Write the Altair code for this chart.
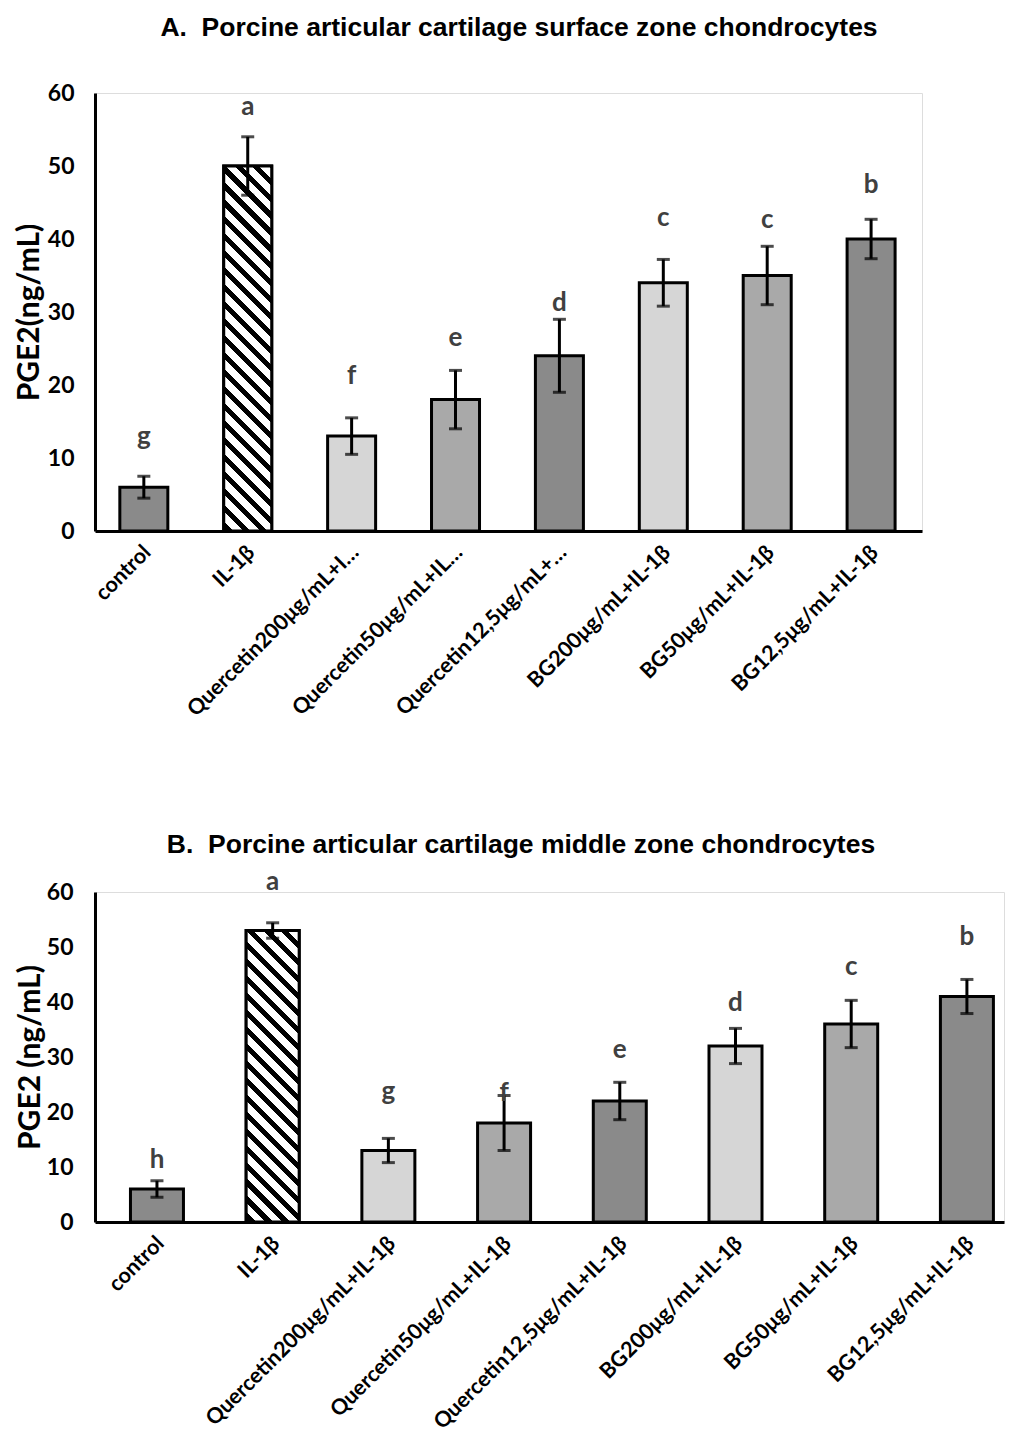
import math
import altair as alt
import pandas as pd

# ---------------- data ----------------
categories = ["control", "IL-1β", "Quercetin200μg/mL+IL-1β", "Quercetin50μg/mL+IL-1β",
              "Quercetin12,5μg/mL+IL-1β", "BG200μg/mL+IL-1β", "BG50μg/mL+IL-1β", "BG12,5μg/mL+IL-1β"]
labels_a = ["control", "IL-1β", "Quercetin200μg/mL+I…", "Quercetin50μg/mL+IL…",
            "Quercetin12,5μg/mL+…", "BG200μg/mL+IL-1β", "BG50μg/mL+IL-1β", "BG12,5μg/mL+IL-1β"]

values_a = [6, 50, 13, 18, 24, 34, 35, 40]
errors_a = [1.5, 4, 2.5, 4, 5, 3.2, 4, 2.7]
letters_a = ["g", "a", "f", "e", "d", "c", "c", "b"]
letter_y_a = [12.9, 58.1, 21.2, 26.4, 31.2, 42.9, 42.6, 47.4]

values_b = [6, 53, 13, 18, 22, 32, 36, 41]
errors_b = [1.5, 1.4, 2.2, 5, 3.4, 3.2, 4.3, 3.1]
letters_b = ["h", "a", "g", "f", "e", "d", "c", "b"]
letter_y_b = [11.3, 61.8, 23.6, 23.4, 31.3, 39.8, 46.4, 51.8]

title_a = "A.\u00a0 Porcine articular cartilage surface zone chondrocytes"
title_b = "B.\u00a0 Porcine articular cartilage middle zone chondrocytes"
ytitle_a = "PGE2(ng/mL)"
ytitle_b = "PGE2 (ng/mL)"

# grey tones standing in for the print patterns (by bar position)
fills = ["#8a8a8a", "#ffffff", "#d6d6d6", "#a9a9a9", "#8a8a8a", "#d6d6d6", "#a9a9a9", "#8a8a8a"]

LABEL_FONT = "Lato"
TITLE_FONT = "Liberation Sans"


def stripe_gradient(w, h, period=12.0, black=5.0):
    """Diagonal '\\' hatching built from a linear gradient (bbox units)."""
    a = w / h
    s = (a + 1) / (a * a + 1)
    x2, y2 = a * s, 1 - s
    L = (w + h) / math.sqrt(2)
    stops = [{"offset": 0, "color": "white"}]
    p = 2.0
    while p < L:
        o1 = min(p / L, 1)
        o2 = min((p + black) / L, 1)
        stops += [{"offset": o1, "color": "white"}, {"offset": o1, "color": "black"},
                  {"offset": o2, "color": "black"}, {"offset": o2, "color": "white"}]
        p += period
    stops.append({"offset": 1, "color": "white"})
    return {"gradient": "linear", "x1": 0, "y1": 1, "x2": x2, "y2": y2, "stops": stops}


def panel(labels, values, errors, letters, letter_y, title, ytitle, width, height,
          pad_inner, pad_outer, align, title_offset, title_dx, label_pad, title_pad):
    df = pd.DataFrame({
        "cat": labels,
        "idx": list(range(len(labels))),
        "value": values,
        "lo": [v - e for v, e in zip(values, errors)],
        "hi": [v + e for v, e in zip(values, errors)],
        "letter": letters,
        "ly": letter_y,
    })
    step = width / (len(labels) - pad_inner + 2 * pad_outer)
    bw = step * (1 - pad_inner)
    grad = stripe_gradient(bw, values[1] / 60 * height)

    xscale = alt.Scale(domain=labels, paddingInner=pad_inner, paddingOuter=pad_outer, align=align)
    x = alt.X("cat:N", sort=labels, scale=xscale, title=None,
              axis=alt.Axis(labelAngle=-45, labelAlign="right", labelBaseline="middle",
                            labelFont=LABEL_FONT, labelFontSize=21.5, labelFontWeight="bold",
                            labelColor="black", labelPadding=18, labelOffset=4, ticks=False,
                            domainColor="black", domainWidth=3, labelLimit=500))
    yscale = alt.Scale(domain=[0, 60], nice=False)
    y_axis = alt.Axis(values=[0, 10, 20, 30, 40, 50, 60], grid=False, ticks=False,
                      domainColor="black", domainWidth=3,
                      labelFont=LABEL_FONT, labelFontSize=23, labelFontWeight="bold",
                      labelColor="black", labelPadding=label_pad,
                      titleFont=LABEL_FONT, titleFontSize=30, titleFontWeight="bold",
                      titleColor="black", titlePadding=title_pad)

    base = alt.Chart(df)
    bars = base.mark_bar(stroke="black", strokeWidth=3, size=bw).encode(
        x=x,
        y=alt.Y("value:Q", scale=yscale, axis=y_axis, title=ytitle),
        fill=alt.Fill("idx:O", scale=alt.Scale(domain=list(range(len(labels))), range=fills),
                      legend=None),
    )
    hatch = base.transform_filter(alt.datum.idx == 1).mark_bar(
        stroke="black", strokeWidth=3, fill=grad, size=bw).encode(
        x=alt.X("cat:N", sort=labels), y="value:Q")
    rule = base.mark_rule(color="black", strokeWidth=3).encode(
        x=alt.X("cat:N", sort=labels), y="lo:Q", y2="hi:Q")
    cap_lo = base.mark_tick(color="black", thickness=3, size=13).encode(
        x=alt.X("cat:N", sort=labels), y="lo:Q")
    cap_hi = base.mark_tick(color="black", thickness=3, size=13).encode(
        x=alt.X("cat:N", sort=labels), y="hi:Q")
    text = base.mark_text(font=LABEL_FONT, fontSize=26, fontWeight="bold", color="#404040",
                          baseline="middle").encode(
        x=alt.X("cat:N", sort=labels), y="ly:Q", text="letter:N")

    return alt.layer(bars, hatch, rule, cap_lo, cap_hi, text).properties(
        width=width, height=height,
        title=alt.TitleParams(title, font=TITLE_FONT, fontSize=26.5, fontWeight="bold",
                              color="black", anchor="middle", offset=title_offset, dx=title_dx),
    )


chart_a = panel(labels_a, values_a, errors_a, letters_a, letter_y_a, title_a, ytitle_a,
                827, 438, 0.538, 0.249, 0.48, 41, 10.5, 21, 2.5)
chart_b = panel(categories, values_b, errors_b, letters_b, letter_y_b, title_b, ytitle_b,
                909, 330, 0.542, 0.199, 0.77, 11, -28.5, 22, 1)

chart = alt.vconcat(chart_a, chart_b, spacing=110).configure_view(stroke=None).configure(
    padding={"left": 6, "top": 6, "right": 0, "bottom": 0})

chart.save("out.html", embed_options={"renderer": "svg", "actions": False})
